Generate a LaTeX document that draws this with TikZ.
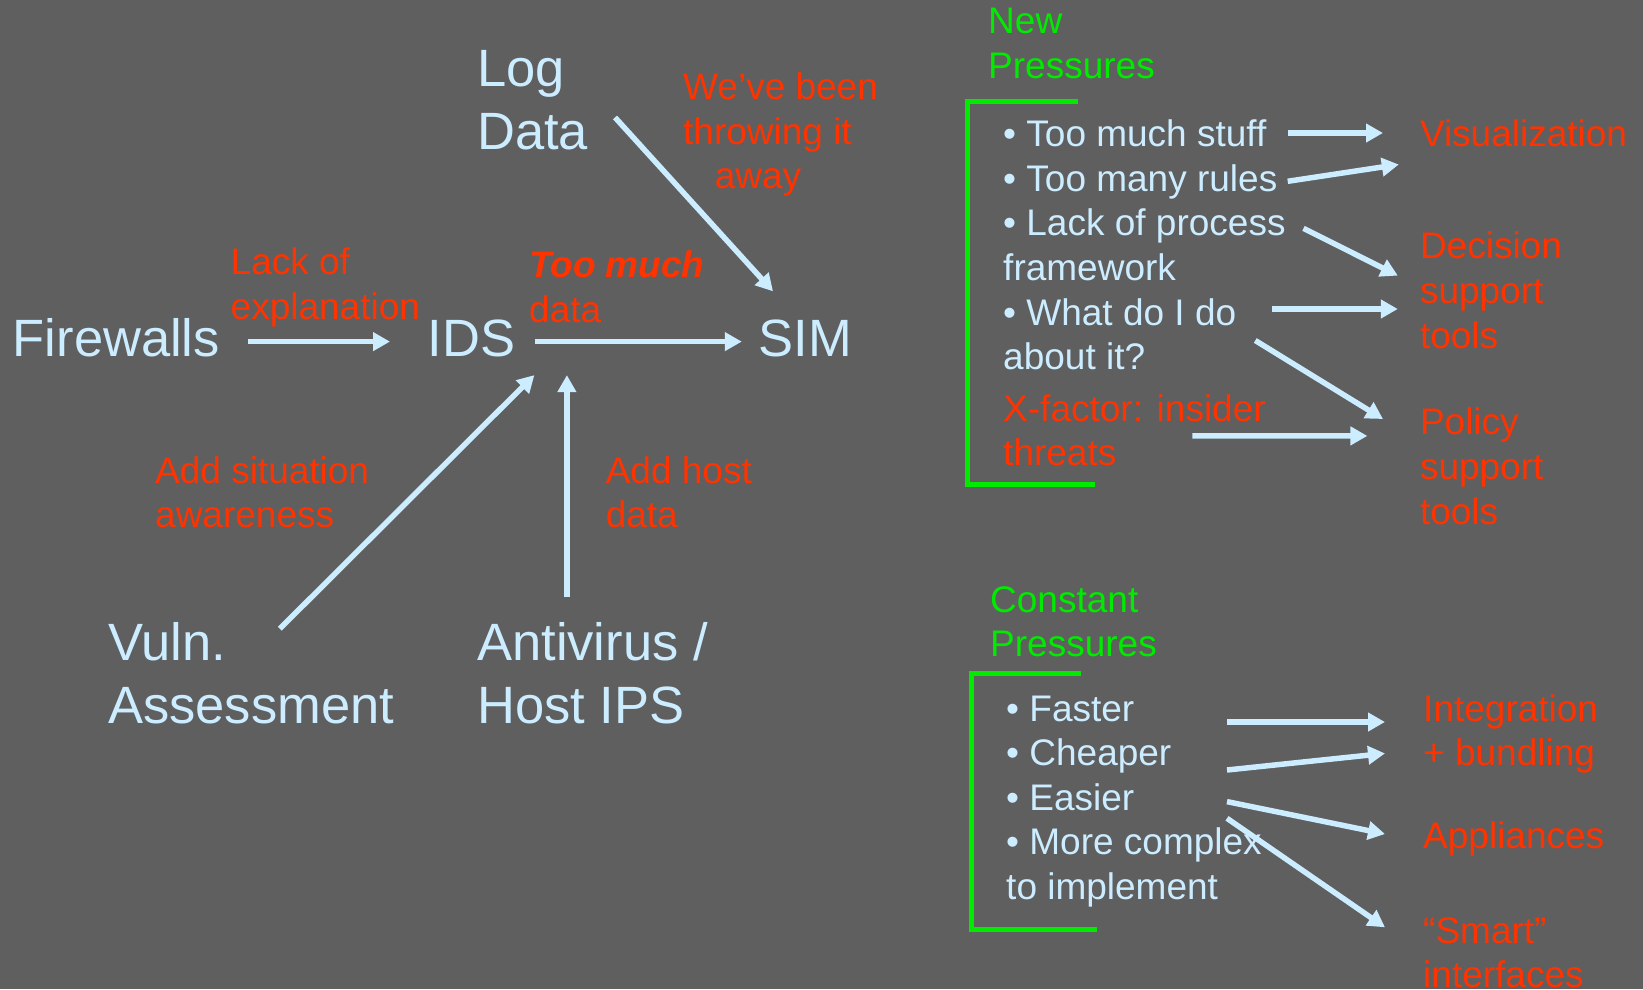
\documentclass[tikz,border=0pt]{standalone}
\usepackage{fontspec}
\setmainfont{Liberation Sans}
\usetikzlibrary{arrows.meta}
\definecolor{bg}{RGB}{95,95,95}
\definecolor{lblue}{RGB}{204,236,255}
\definecolor{ored}{RGB}{255,51,0}
\definecolor{bgreen}{RGB}{0,235,0}
\newcommand{\mlines}[1]{\begin{tabular}[t]{@{}l@{}}#1\end{tabular}}
\tikzset{
  big/.style={text=lblue, font=\fontsize{52.5}{63}\selectfont, inner sep=0pt, anchor=base west},
  sm/.style={font=\fontsize{37}{44.6}\selectfont, inner sep=0pt, anchor=base west},
  lbl/.style={sm, text=ored},
  lst/.style={sm, text=lblue},
  grn/.style={sm, text=bgreen},
  arr/.style={draw=lblue, line width=5.5pt, -{Triangle[length=17pt,width=18pt]}},
  brk/.style={draw=bgreen, line width=5pt}
}
\begin{document}
\begin{tikzpicture}[x=1pt,y=-1pt]
\fill[bg] (0,0) rectangle (1643,989);
\useasboundingbox (0,0) rectangle (1643,989);
% left diagram
\node[big] (log) at (477,86) {\mlines{Log\\Data}};
\node[big] (fw) at (12.6,356) {Firewalls};
\node[big] (ids) at (427.5,356) {IDS};
\node[big] (sim) at (758.6,356) {SIM};
\node[big] (vuln) at (108,660) {\mlines{Vuln.\\Assessment}};
\node[big] (av) at (477,660) {\mlines{Antivirus /\\Host IPS}};
\node[lbl] (wev) at (683,99.5) {\mlines{We’ve been\\throwing it\\\hspace*{31.6pt}away}};
\node[lbl] (lack) at (230.5,274.5) {\mlines{Lack of\\explanation}};
\node[lbl] (much) at (529,277.7) {\mlines{\textbf{\textit{Too much}}\\data}};
\node[lbl] (sit) at (155,483) {\mlines{Add situation\\awareness}};
\node[lbl] (host) at (605.6,483) {\mlines{Add host\\data}};
\draw[arr] ([shift={(235.4,-14.4)}]fw.base west) -- ([shift={(-37.5,-14.4)}]ids.base west);
\draw[arr] ([shift={(107.9,-14.4)}]ids.base west) -- ([shift={(-16.8,-14.4)}]sim.base west);
\draw[arr] ([shift={(138,31.4)}]log.base west) -- ([shift={(14.4,-64.7)}]sim.base west);
\draw[arr] ([shift={(171.8,-31.3)}]vuln.base west) -- ([shift={(106.9,19.1)}]ids.base west);
\draw[arr] ([shift={(89.9,-62.8)}]av.base west) -- ([shift={(139.4,19.1)}]ids.base west);
% new pressures
\node[grn] (newp) at (988,33.5) {\mlines{New\\Pressures}};
\draw[brk] (1078,101.6) -| (967,484) -- (1095,484);
\node[lst] (list1) at (1003,146.7) {\mlines{• Too much stuff\\• Too many rules\\• Lack of process\\framework\\• What do I do\\about it?}};
\node[lbl] (xf) at (1003,421) {\mlines{X-factor: insider\\threats}};
\node[lbl] (vis) at (1419.8,146.7) {Visualization};
\node[lbl] (dec) at (1419.8,258.8) {\mlines{Decision\\support\\tools}};
\node[lbl] (pol) at (1419.8,434.8) {\mlines{Policy\\support\\tools}};
\draw[arr] ([shift={(284.7,-13.7)}]list1.base west) -- ([shift={(-36.8,-13.7)}]vis.base west);
\draw[arr] ([shift={(284.7,34.6)}]list1.base west) -- ([shift={(-21,17.8)}]vis.base west);
\draw[arr] ([shift={(300.5,81.7)}]list1.base west) -- ([shift={(-22,16.8)}]dec.base west);
\draw[arr] ([shift={(269,162.3)}]list1.base west) -- ([shift={(-22,50.2)}]dec.base west);
\draw[arr] ([shift={(252.3,193.8)}]list1.base west) -- ([shift={(-36.8,-15.8)}]pol.base west);
\draw[arr] ([shift={(189.4,14.9)}]xf.base west) -- ([shift={(-52.4,1.1)}]pol.base west);
% constant pressures
\node[grn] (constp) at (990,612) {\mlines{Constant\\Pressures}};
\draw[brk] (1081,673.7) -| (971,929.4) -- (1097,929.4);
\node[lst] (list2) at (1006,721) {\mlines{• Faster\\• Cheaper\\• Easier\\• More complex\\to implement}};
\node[lbl] (integ) at (1423,721) {\mlines{Integration\\+ bundling}};
\node[lbl] (appl) at (1423,848) {Appliances};
\node[lbl] (smart) at (1423,943) {\mlines{“Smart”\\interfaces}};
\draw[arr] ([shift={(221,1)}]list2.base west) -- ([shift={(-38,1)}]integ.base west);
\draw[arr] ([shift={(221,49)}]list2.base west) -- ([shift={(-38,32.4)}]integ.base west);
\draw[arr] ([shift={(221,80.6)}]list2.base west) -- ([shift={(-38,-14)}]appl.base west);
\draw[arr] ([shift={(221,97.3)}]list2.base west) -- ([shift={(-38,-15.7)}]smart.base west);
\end{tikzpicture}
\end{document}
